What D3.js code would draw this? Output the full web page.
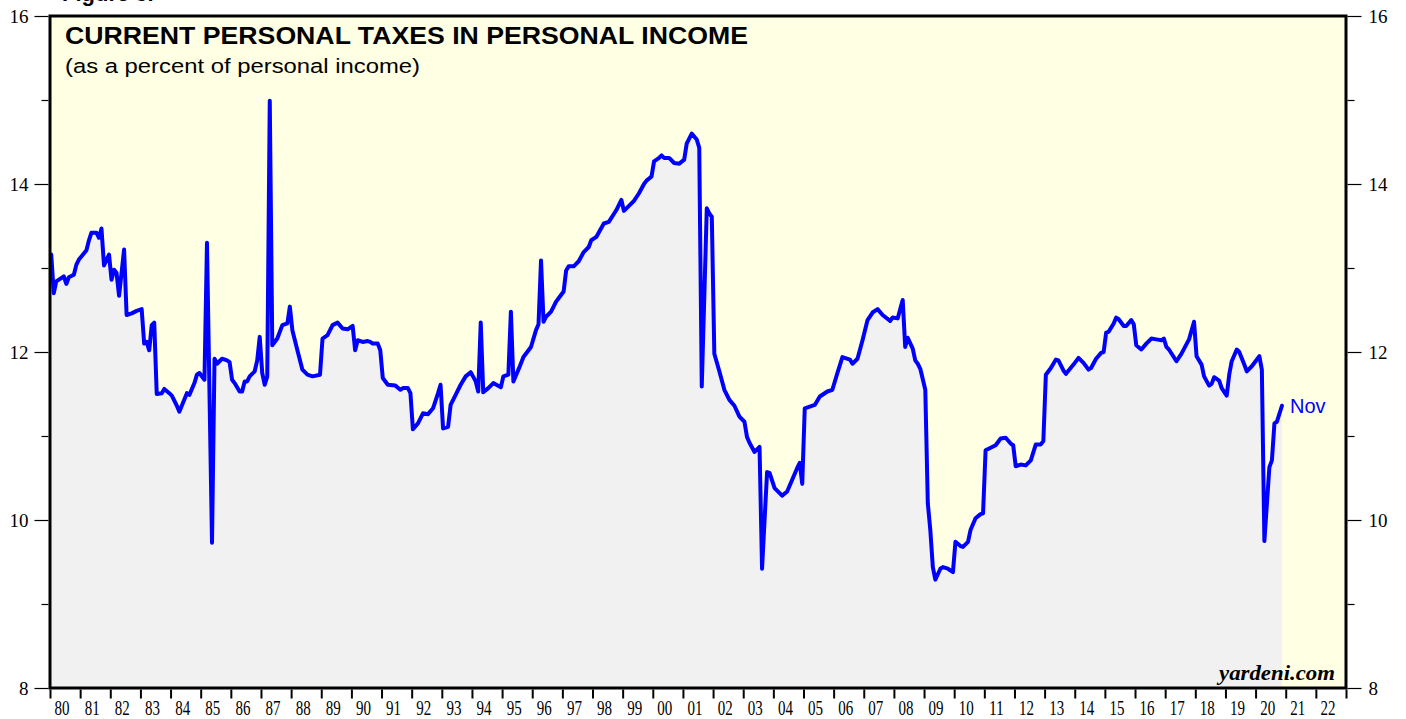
<!DOCTYPE html>
<html>
<head>
<meta charset="utf-8">
<script src="https://cdn.jsdelivr.net/npm/d3@7"></script>
<style>
  html, body { margin: 0; padding: 0; background: #ffffff; }
  svg { display: block; }
</style>
</head>
<body>
<svg id="chart" width="1406" height="719"></svg>
<script>
// ---------------- DATA ----------------
const months = [
  "1980-01","1980-02","1980-03","1980-06","1980-07","1980-08","1980-10","1980-11","1980-12",
  "1981-03","1981-04","1981-05","1981-07","1981-08","1981-09","1981-10","1981-12",
  "1982-01","1982-02","1982-03","1982-04","1982-06","1982-07","1982-09","1982-11",
  "1983-01","1983-02","1983-03","1983-04","1983-05","1983-06","1983-07","1983-09","1983-10","1983-12",
  "1984-01","1984-02","1984-03","1984-04","1984-07","1984-08","1984-10","1984-11","1984-12",
  "1985-02","1985-03","1985-05","1985-06","1985-07","1985-09","1985-11","1985-12",
  "1986-01","1986-02","1986-04","1986-05","1986-06","1986-07","1986-08","1986-10","1986-11","1986-12",
  "1987-01","1987-02","1987-03","1987-04","1987-05","1987-07","1987-09","1987-11","1987-12",
  "1988-01","1988-03","1988-05","1988-07","1988-09","1988-12",
  "1989-01","1989-03","1989-05","1989-07","1989-09","1989-11",
  "1990-01","1990-02","1990-03","1990-05","1990-07","1990-08","1990-09","1990-11","1990-12",
  "1991-01","1991-03","1991-06","1991-08","1991-09","1991-11","1991-12",
  "1992-01","1992-03","1992-05","1992-07","1992-09","1992-11","1992-12",
  "1993-01","1993-03","1993-04","1993-06","1993-08","1993-10","1993-12",
  "1994-02","1994-03","1994-04","1994-05","1994-07","1994-09","1994-12",
  "1995-01","1995-03","1995-04","1995-05","1995-07","1995-09","1995-12",
  "1996-02","1996-03","1996-04","1996-05","1996-06","1996-08","1996-10","1996-11",
  "1997-01","1997-02","1997-03","1997-05","1997-07","1997-09","1997-11","1997-12",
  "1998-02","1998-05","1998-07","1998-10","1998-12",
  "1999-01","1999-03","1999-05","1999-07","1999-09","1999-10","1999-12",
  "2000-01","2000-03","2000-04","2000-05","2000-07","2000-09","2000-11",
  "2001-01","2001-02","2001-04","2001-06","2001-07","2001-08","2001-10","2001-11","2001-12",
  "2002-01","2002-03","2002-05","2002-07","2002-09","2002-11",
  "2003-01","2003-02","2003-03","2003-05","2003-07","2003-08","2003-10","2003-11",
  "2004-01","2004-04","2004-06","2004-08","2004-10","2004-11","2004-12",
  "2005-01","2005-03","2005-05","2005-07","2005-10","2005-12",
  "2006-02","2006-04","2006-07","2006-08","2006-10","2006-12",
  "2007-02","2007-04","2007-06","2007-08","2007-11","2007-12",
  "2008-02","2008-04","2008-05","2008-06","2008-08","2008-09","2008-10","2008-11",
  "2009-01","2009-02","2009-03","2009-04","2009-05","2009-07","2009-08","2009-10","2009-12",
  "2010-01","2010-03","2010-04","2010-06","2010-07","2010-09","2010-11","2010-12",
  "2011-01","2011-03","2011-05","2011-07","2011-09","2011-11","2011-12",
  "2012-01","2012-03","2012-05","2012-07","2012-09","2012-11","2012-12",
  "2013-01","2013-03","2013-05","2013-06","2013-08","2013-09","2013-12",
  "2014-02","2014-04","2014-06","2014-07","2014-09","2014-11","2014-12",
  "2015-01","2015-02","2015-04","2015-05","2015-06","2015-08","2015-09","2015-11","2015-12",
  "2016-01","2016-03","2016-05","2016-07","2016-09","2016-11","2016-12",
  "2017-01","2017-02","2017-05","2017-07","2017-10","2017-12",
  "2018-01","2018-03","2018-04","2018-06","2018-07","2018-08","2018-10","2018-11",
  "2019-01","2019-02","2019-03","2019-05","2019-06","2019-08","2019-09","2019-11",
  "2020-02","2020-03","2020-04","2020-06","2020-07","2020-08","2020-09","2020-11"
];
const taxShare = [
  13.16,12.70,12.84,12.90,12.81,12.89,12.92,13.04,13.10,
  13.21,13.33,13.42,13.42,13.36,13.47,13.03,13.16,
  12.86,12.98,12.94,12.67,13.22,12.44,12.46,12.49,
  12.51,12.10,12.12,12.02,12.32,12.35,11.50,11.51,11.56,11.51,
  11.48,11.42,11.36,11.29,11.51,11.49,11.63,11.73,11.75,
  11.67,13.30,9.73,11.92,11.86,11.92,11.90,11.88,
  11.67,11.63,11.53,11.53,11.65,11.65,11.71,11.77,11.90,12.18,
  11.75,11.61,11.71,14.99,12.08,12.16,12.32,12.34,12.54,
  12.26,12.02,11.79,11.73,11.71,11.73,
  12.16,12.20,12.32,12.35,12.28,12.27,
  12.31,12.02,12.14,12.12,12.13,12.12,12.10,12.10,12.02,
  11.69,11.61,11.60,11.55,11.57,11.57,11.51,
  11.08,11.15,11.27,11.26,11.33,11.51,11.61,
  11.09,11.11,11.37,11.49,11.61,11.71,11.76,
  11.65,11.53,12.35,11.52,11.57,11.63,11.58,
  11.71,11.73,12.48,11.65,11.79,11.94,12.06,
  12.26,12.33,13.09,12.36,12.42,12.48,12.60,12.64,
  12.72,12.97,13.02,13.02,13.08,13.19,13.25,13.33,
  13.37,13.53,13.55,13.69,13.81,
  13.68,13.74,13.80,13.89,14.00,14.04,14.09,
  14.27,14.31,14.34,14.31,14.31,14.25,14.24,
  14.29,14.48,14.60,14.53,14.43,11.59,13.71,13.65,13.61,
  11.98,11.77,11.55,11.43,11.36,11.23,
  11.17,10.99,10.92,10.81,10.87,9.42,10.57,10.56,
  10.38,10.29,10.34,10.48,10.62,10.68,10.43,
  11.33,11.35,11.37,11.47,11.53,11.55,
  11.75,11.94,11.91,11.86,11.92,12.14,
  12.38,12.47,12.51,12.44,12.37,12.41,
  12.40,12.62,12.06,12.17,12.04,11.90,11.86,11.80,
  11.55,10.20,9.88,9.44,9.29,9.42,9.44,9.42,9.38,
  9.74,9.69,9.68,9.74,9.88,10.02,10.07,10.08,
  10.83,10.86,10.89,10.97,10.98,10.91,10.89,
  10.64,10.66,10.65,10.71,10.90,10.90,10.94,
  11.73,11.81,11.91,11.90,11.78,11.74,11.85,
  11.93,11.87,11.79,11.81,11.92,11.99,12.00,
  12.23,12.24,12.34,12.41,12.39,12.31,12.31,12.38,12.33,
  12.08,12.03,12.10,12.16,12.15,12.14,12.16,
  12.06,12.03,11.89,11.98,12.15,12.36,
  11.95,11.85,11.71,11.60,11.62,11.70,11.66,11.57,
  11.48,11.73,11.89,12.03,12.00,11.85,11.77,11.83,
  11.95,11.79,9.75,10.63,10.71,11.15,11.17,11.36
];
const yMajorTicks = [8, 10, 12, 14, 16];
const yMinorTicks = [9, 11, 13, 15];
const yearLabels = ["80","81","82","83","84","85","86","87","88","89","90","91","92","93","94","95","96","97","98","99","00","01","02","03","04","05","06","07","08","09","10","11","12","13","14","15","16","17","18","19","20","21","22"];
const firstYear = 1980;
const lastLabel = "Nov";
const titleText = "CURRENT PERSONAL TAXES IN PERSONAL INCOME";
const subtitleText = "(as a percent of personal income)";
const figureText = "Figure 3.";
const sourceText = "yardeni.com";

// ---------------- LAYOUT ----------------
const W = 1406, H = 719;
const m = { left: 50, right: 1346, top: 16, bottom: 688 };
const serif = "'Liberation Serif','Times New Roman',Times,serif";
const sans = "'Liberation Sans',Arial,Helvetica,sans-serif";

const svg = d3.select("#chart");
svg.append("rect").attr("width", W).attr("height", H).attr("fill", "#ffffff");

const x = d3.scaleLinear().domain([firstYear, firstYear + yearLabels.length]).range([m.left, m.right]);
const y = d3.scaleLinear().domain([8, 16]).range([m.bottom, m.top]);

const data = months.map((s, i) => {
  const [yy, mm] = s.split("-").map(Number);
  return { t: yy + (mm - 0.5) / 12, v: taxShare[i] };
});

// background
svg.append("rect")
  .attr("x", m.left).attr("y", m.top)
  .attr("width", m.right - m.left).attr("height", m.bottom - m.top)
  .attr("fill", "#FFFFE3");

// area
const area = d3.area().x(d => x(d.t)).y0(y(8)).y1(d => y(d.v));
svg.append("path").datum(data).attr("d", area).attr("fill", "#F1F1F1");

// line
const line = d3.line().x(d => x(d.t)).y(d => y(d.v));
svg.append("path").datum(data).attr("d", line)
  .attr("fill", "none").attr("stroke", "#0000FF")
  .attr("stroke-width", 4).attr("stroke-linejoin", "round").attr("stroke-linecap", "round");

// last label
const last = data[data.length - 1];
svg.append("text").attr("x", x(last.t) + 8).attr("y", y(last.v) + 7)
  .attr("font-family", sans).attr("font-size", 20).attr("fill", "#0000FF")
  .text(lastLabel);

// titles
svg.append("text").attr("x", 65).attr("y", 44)
  .attr("font-family", sans).attr("font-weight", "bold").attr("font-size", 23).attr("fill", "#000")
  .attr("textLength", 683).attr("lengthAdjust", "spacingAndGlyphs")
  .text(titleText);
svg.append("text").attr("x", 65).attr("y", 73)
  .attr("font-family", sans).attr("font-size", 20.5).attr("fill", "#000")
  .attr("textLength", 355).attr("lengthAdjust", "spacingAndGlyphs")
  .text(subtitleText);
svg.append("text").attr("x", 62).attr("y", 1)
  .attr("font-family", sans).attr("font-weight", "bold").attr("font-size", 22).attr("fill", "#000")
  .text(figureText);

// source
svg.append("text").attr("x", 1335).attr("y", 680).attr("text-anchor", "end")
  .attr("font-family", serif).attr("font-weight", "bold").attr("font-style", "italic")
  .attr("font-size", 21).attr("fill", "#000")
  .attr("textLength", 116).attr("lengthAdjust", "spacingAndGlyphs")
  .text(sourceText);

// frame
svg.append("rect")
  .attr("x", m.left).attr("y", m.top)
  .attr("width", m.right - m.left).attr("height", m.bottom - m.top)
  .attr("fill", "none").attr("stroke", "#000").attr("stroke-width", 3);

function styleAxis(g) {
  g.select(".domain").remove();
  g.selectAll(".tick line").attr("stroke", "#000").attr("stroke-width", 1.2);
  g.selectAll(".tick text").attr("font-family", serif).attr("font-size", 19).attr("fill", "#000");
}

// left axis
svg.append("g").attr("transform", `translate(${m.left - 1.5},0)`)
  .call(d3.axisLeft(y).tickValues(yMajorTicks).tickSize(14).tickPadding(6).tickFormat(d3.format("d")))
  .call(styleAxis);
svg.append("g").attr("transform", `translate(${m.left - 1.5},0)`)
  .call(d3.axisLeft(y).tickValues(yMinorTicks).tickSize(7).tickFormat(""))
  .call(styleAxis);

// right axis
svg.append("g").attr("transform", `translate(${m.right + 1.5},0)`)
  .call(d3.axisRight(y).tickValues(yMajorTicks).tickSize(14).tickPadding(7).tickFormat(d3.format("d")))
  .call(styleAxis);
svg.append("g").attr("transform", `translate(${m.right + 1.5},0)`)
  .call(d3.axisRight(y).tickValues(yMinorTicks).tickSize(7).tickFormat(""))
  .call(styleAxis);

// bottom axis ticks at year boundaries
const yearTicks = d3.range(firstYear, firstYear + yearLabels.length + 1);
svg.append("g").attr("transform", `translate(0,${m.bottom + 1.5})`)
  .call(d3.axisBottom(x).tickValues(yearTicks).tickSize(9).tickFormat(""))
  .call(g => {
    g.select(".domain").remove();
    g.selectAll(".tick line").attr("stroke", "#000").attr("stroke-width", 2);
  });

// year labels centered between ticks
svg.append("g").selectAll("text").data(yearLabels).join("text")
  .attr("x", (d, i) => x(firstYear + i + 0.5) - 3)
  .attr("y", 715)
  .attr("text-anchor", "middle")
  .attr("font-family", serif).attr("font-size", 22).attr("fill", "#000")
  .attr("textLength", 15).attr("lengthAdjust", "spacingAndGlyphs")
  .text(d => d);
</script>
</body>
</html>
